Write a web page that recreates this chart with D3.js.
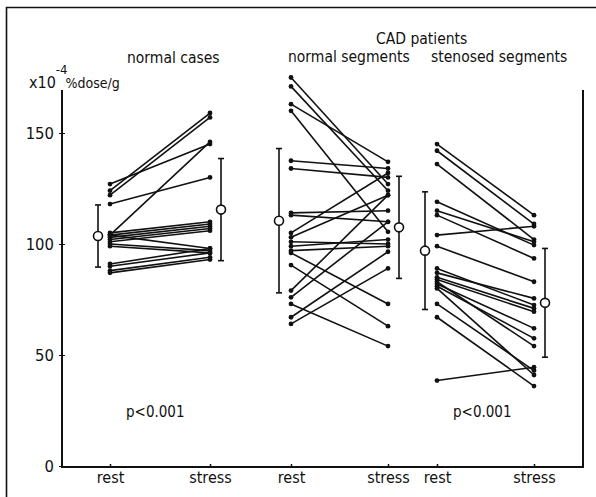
<!DOCTYPE html>
<html>
<head>
<meta charset="utf-8">
<script src="https://cdn.jsdelivr.net/npm/d3@7"></script>
<style>
  body { margin: 0; background: #fff; }
  text { font-family: "Liberation Sans Narrow", "DejaVu Sans Condensed", sans-serif; fill: #111; }
</style>
</head>
<body>
<svg id="chart" width="596" height="497"></svg>
<script>
const phases = ["rest", "stress"]
const yTicks = [0, 50, 100, 150]

// normal cases
const normalRest   = [127, 124, 122, 118, 104, 105, 104, 103, 102, 101, 104, 100, 99, 91, 90, 88, 87]
const normalStress = [145, 159, 157, 130, 146, 110, 109, 108, 107, 106, 98, 97, 96, 98, 96, 94, 93]
const normalMean = [103.6, 115.5]
const normalSD   = [14, 23]

// CAD patients, normal segments
const segRest   = [175, 171, 163, 160, 137.5, 134, 114, 113, 105, 103, 101, 99, 97, 96, 90.5, 79, 76, 73, 67, 64]
const segStress = [127, 124, 137, 105.5, 134, 130, 115, 110, 132, 122, 100, 102, 99, 73, 63, 122, 110, 54, 96.5, 89]
const segMean = [110.5, 107.5]
const segSD   = [32.5, 23]

// CAD patients, stenosed segments
const stenRest   = [145, 142, 136, 119, 115, 113, 104, 99, 89, 87, 85, 84, 82, 81, 80, 83, 73, 67, 38.5]
const stenStress = [113, 109, 102, 99.5, 101, 93.5, 108, 83, 72.5, 75.5, 71, 69.5, 62, 57.5, 41, 54, 43, 36, 44.5]
const stenMean = [97, 73.5]
const stenSD   = [26.5, 24.5]

const pValues = ["p<0.001", null, "p<0.001"]

const svg = d3.select('#chart')

// frame
svg.append('path')
  .attr('d', 'M6.5,497 L6.5,7.5 L596,7.5')
  .attr('fill', 'none').attr('stroke', '#111').attr('stroke-width', 1.6)

const y = d3.scaleLinear().domain([0, 150]).range([466, 133])
const xLeft = 62, xRight = 583, yTop = 90

// group layout: left = rest position, width between rest and stress
const groups = [
  { rest: normalRest, stress: normalStress, mean: normalMean, sd: normalSD, left: 110, width: 100 },
  { rest: segRest, stress: segStress, mean: segMean, sd: segSD, left: 291, width: 97 },
  { rest: stenRest, stress: stenStress, mean: stenMean, sd: stenSD, left: 437, width: 97 }
]
groups.forEach(g => {
  g.x = d3.scalePoint().domain(phases).range([g.left, g.left + g.width])
})

// axes
svg.append('path')
  .attr('d', `M${xLeft},${yTop} L${xLeft},${y(0) + 1} L${xRight},${y(0) + 1} L${xRight},${yTop}`)
  .attr('fill', 'none').attr('stroke', '#111').attr('stroke-width', 2)

const yAxis = svg.append('g')
  .attr('transform', `translate(${xLeft},0)`)
  .call(d3.axisLeft(y).tickValues(yTicks).tickSize(3).tickPadding(5))
yAxis.select('.domain').remove()
yAxis.selectAll('line').attr('stroke', '#111').attr('x2', 3).attr('x1', -3)
yAxis.selectAll('text')
  .style('font-size', '16.5px')
  .attr('fill', '#111')

groups.forEach(g => {
  const ax = svg.append('g')
    .attr('transform', `translate(0,${y(0) + 1})`)
    .call(d3.axisBottom(g.x).tickSize(-3).tickPadding(5))
  ax.select('.domain').remove()
  ax.selectAll('line').attr('stroke', '#111').attr('stroke-width', 1.5)
  ax.selectAll('text').style('font-size', '16px').attr('fill', '#111')
})

// paired lines
groups.forEach(g => {
  const pairs = g.rest.map((r, i) => [r, g.stress[i]])
  const lay = svg.append('g')
  lay.selectAll('line.pair')
    .data(pairs)
    .enter()
    .append('line')
      .attr('x1', g.x('rest')).attr('x2', g.x('stress'))
      .attr('y1', d => y(d[0])).attr('y2', d => y(d[1]))
      .attr('stroke', '#111').attr('stroke-width', 1.6)
  phases.forEach((p, k) => {
    lay.selectAll('circle.dot' + k)
      .data(pairs)
      .enter()
      .append('circle')
        .attr('cx', g.x(p)).attr('cy', d => y(d[k]))
        .attr('r', 2.4).attr('fill', '#111')
  })

  // mean +/- sd
  phases.forEach((p, k) => {
    const cx = g.x(p) + (k === 0 ? -12 : 11)
    const hi = y(g.mean[k] + g.sd[k]), lo = y(g.mean[k] - g.sd[k])
    const m = svg.append('g').attr('stroke', '#111').attr('stroke-width', 1.6)
    m.append('line').attr('x1', cx).attr('x2', cx).attr('y1', hi).attr('y2', lo)
    m.append('line').attr('x1', cx - 3).attr('x2', cx + 3).attr('y1', hi).attr('y2', hi)
    m.append('line').attr('x1', cx - 3).attr('x2', cx + 3).attr('y1', lo).attr('y2', lo)
    m.append('circle').attr('cx', cx).attr('cy', y(g.mean[k])).attr('r', 4.5).attr('fill', '#fff')
  })
})

// p values
pValues.forEach((p, i) => {
  if (!p) return
  const g = groups[i]
  svg.append('text')
    .attr('x', g.left + 16).attr('y', 417)
    .style('font-size', '15px')
    .text(p)
})

// titles
const title = (txt, x, yy) => svg.append('text')
  .attr('x', x).attr('y', yy).style('font-size', '15.5px').text(txt)
title('normal cases', 127, 63)
title('CAD patients', 376, 44)
title('normal segments', 288, 62)
title('stenosed segments', 431, 62)

const unit = svg.append('text').attr('x', 29).attr('y', 88).style('font-size', '16px')
unit.append('tspan').text('x10')
unit.append('tspan').attr('dy', -14).style('font-size', '13px').text('-4')
unit.append('tspan').attr('dy', 14).attr('dx', -2).style('font-size', '14px').text('%dose/g')
</script>
</body>
</html>
